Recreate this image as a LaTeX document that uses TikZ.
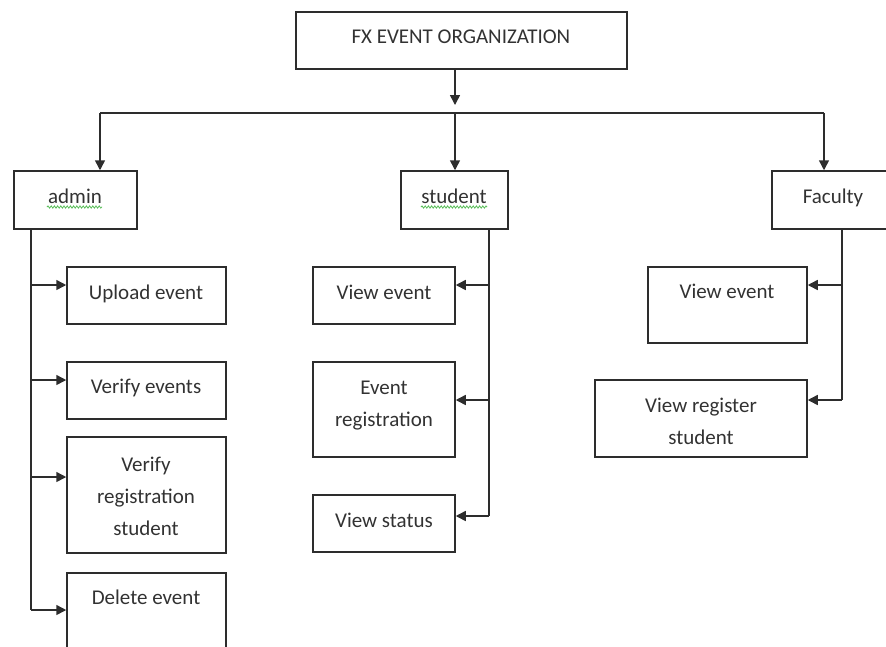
\documentclass[tikz,border=0pt]{standalone}
\usepackage{fontspec}
\setmainfont{Carlito}
\usetikzlibrary{arrows.meta,decorations.pathmorphing}
\definecolor{ln}{RGB}{45,45,45}
\definecolor{tx}{RGB}{50,50,50}
\definecolor{sq}{RGB}{90,190,90}
\begin{document}
\begin{tikzpicture}[x=1pt,y=-1pt,
  box/.style={draw=ln,line width=1.5pt,rectangle,inner sep=0pt},
  lbl/.style={text=tx,anchor=base,align=center,inner sep=0pt,
    font=\fontsize{21pt}{32pt}\selectfont},
  conn/.style={draw=ln,line width=1.5pt},
  arr/.style={conn,-{Triangle[length=10pt,width=10pt]}},
  squig/.style={draw=sq,line width=0.8pt,decorate,
    decoration={snake,amplitude=1.1pt,segment length=3.2pt}}]
\useasboundingbox (0,0) rectangle (886,646);
\clip (0,0) rectangle (886,646);
% boxes
\node[box,minimum width=331pt,minimum height=57pt] (top) at (461.5,40.5) {};
\node[box,minimum width=123pt,minimum height=58pt] (admin) at (75.5,200) {};
\node[box,minimum width=107pt,minimum height=58pt] (student) at (454.5,200) {};
\node[box,minimum width=118pt,minimum height=58pt] (faculty) at (831,200) {};
\node[box,minimum width=159pt,minimum height=57pt] (up) at (146.5,295.5) {};
\node[box,minimum width=159pt,minimum height=57pt] (ve) at (146.5,390.5) {};
\node[box,minimum width=159pt,minimum height=116pt] (vrs) at (146.5,495) {};
\node[box,minimum width=159pt,minimum height=107pt] (del) at (146.5,626.5) {};
\node[box,minimum width=142pt,minimum height=57pt] (sve) at (384,295.5) {};
\node[box,minimum width=142pt,minimum height=95pt] (ereg) at (384,409.5) {};
\node[box,minimum width=142pt,minimum height=57pt] (vst) at (384,523.5) {};
\node[box,minimum width=159pt,minimum height=76pt] (fve) at (727.5,305) {};
\node[box,minimum width=212pt,minimum height=77pt] (fvr) at (701,418.5) {};
% labels (base = baseline of last line)
\node[lbl] (ttop) at (461,43) {FX EVENT ORGANIZATION};
\node[lbl] (tadmin) at (75,203) {admin};
\node[lbl] (tstudent) at (454,203) {student};
\node[lbl] (tfaculty) at (833,203) {Faculty};
\node[lbl] (tup) at (146,299) {Upload event};
\node[lbl] (tve) at (146,393) {Verify events};
\node[lbl] (tvrs) at (146,535) {Verify\\registration\\student};
\node[lbl] (tdel) at (146,604) {Delete event};
\node[lbl] (tsve) at (384,299) {View event};
\node[lbl] (tereg) at (384,426) {Event\\registration};
\node[lbl] (tvst) at (384,527) {View status};
\node[lbl] (tfve) at (727,298) {View event};
\node[lbl] (tfvr) at (701,444) {View register\\student};
% spell-check squiggles
\draw[squig] (47,207) -- (102,207);
\draw[squig] (421,207) -- (487,207);
% top level connectors
\coordinate (tarr) at (455,105);
\coordinate (hl) at (100,113);
\coordinate (hm) at (455,113);
\coordinate (hr) at (824,113);
\draw[arr] (top.south -| tarr) -- (tarr);
\draw[conn] (hl) -- (hr);
\draw[arr] (hl) -- (hl |- admin.north);
\draw[arr] (hm) -- (hm |- student.north);
\draw[arr] (hr) -- (hr |- faculty.north);
% admin branch
\coordinate (a1) at (31,285);
\coordinate (a2) at (31,380);
\coordinate (a3) at (31,477);
\coordinate (a4) at (31,610);
\draw[conn] (a4 |- admin.south) -- (a4);
\draw[arr] (a1) -- (a1 -| up.west);
\draw[arr] (a2) -- (a2 -| ve.west);
\draw[arr] (a3) -- (a3 -| vrs.west);
\draw[arr] (a4) -- (a4 -| del.west);
% student branch
\coordinate (s1) at (489,285);
\coordinate (s2) at (489,400);
\coordinate (s3) at (489,516);
\draw[conn] (s3 |- student.south) -- (s3);
\draw[arr] (s1) -- (s1 -| sve.east);
\draw[arr] (s2) -- (s2 -| ereg.east);
\draw[arr] (s3) -- (s3 -| vst.east);
% faculty branch
\coordinate (f1) at (842,285);
\coordinate (f2) at (842,400);
\draw[conn] (f2 |- faculty.south) -- (f2);
\draw[arr] (f1) -- (f1 -| fve.east);
\draw[arr] (f2) -- (f2 -| fvr.east);
\end{tikzpicture}
\end{document}
